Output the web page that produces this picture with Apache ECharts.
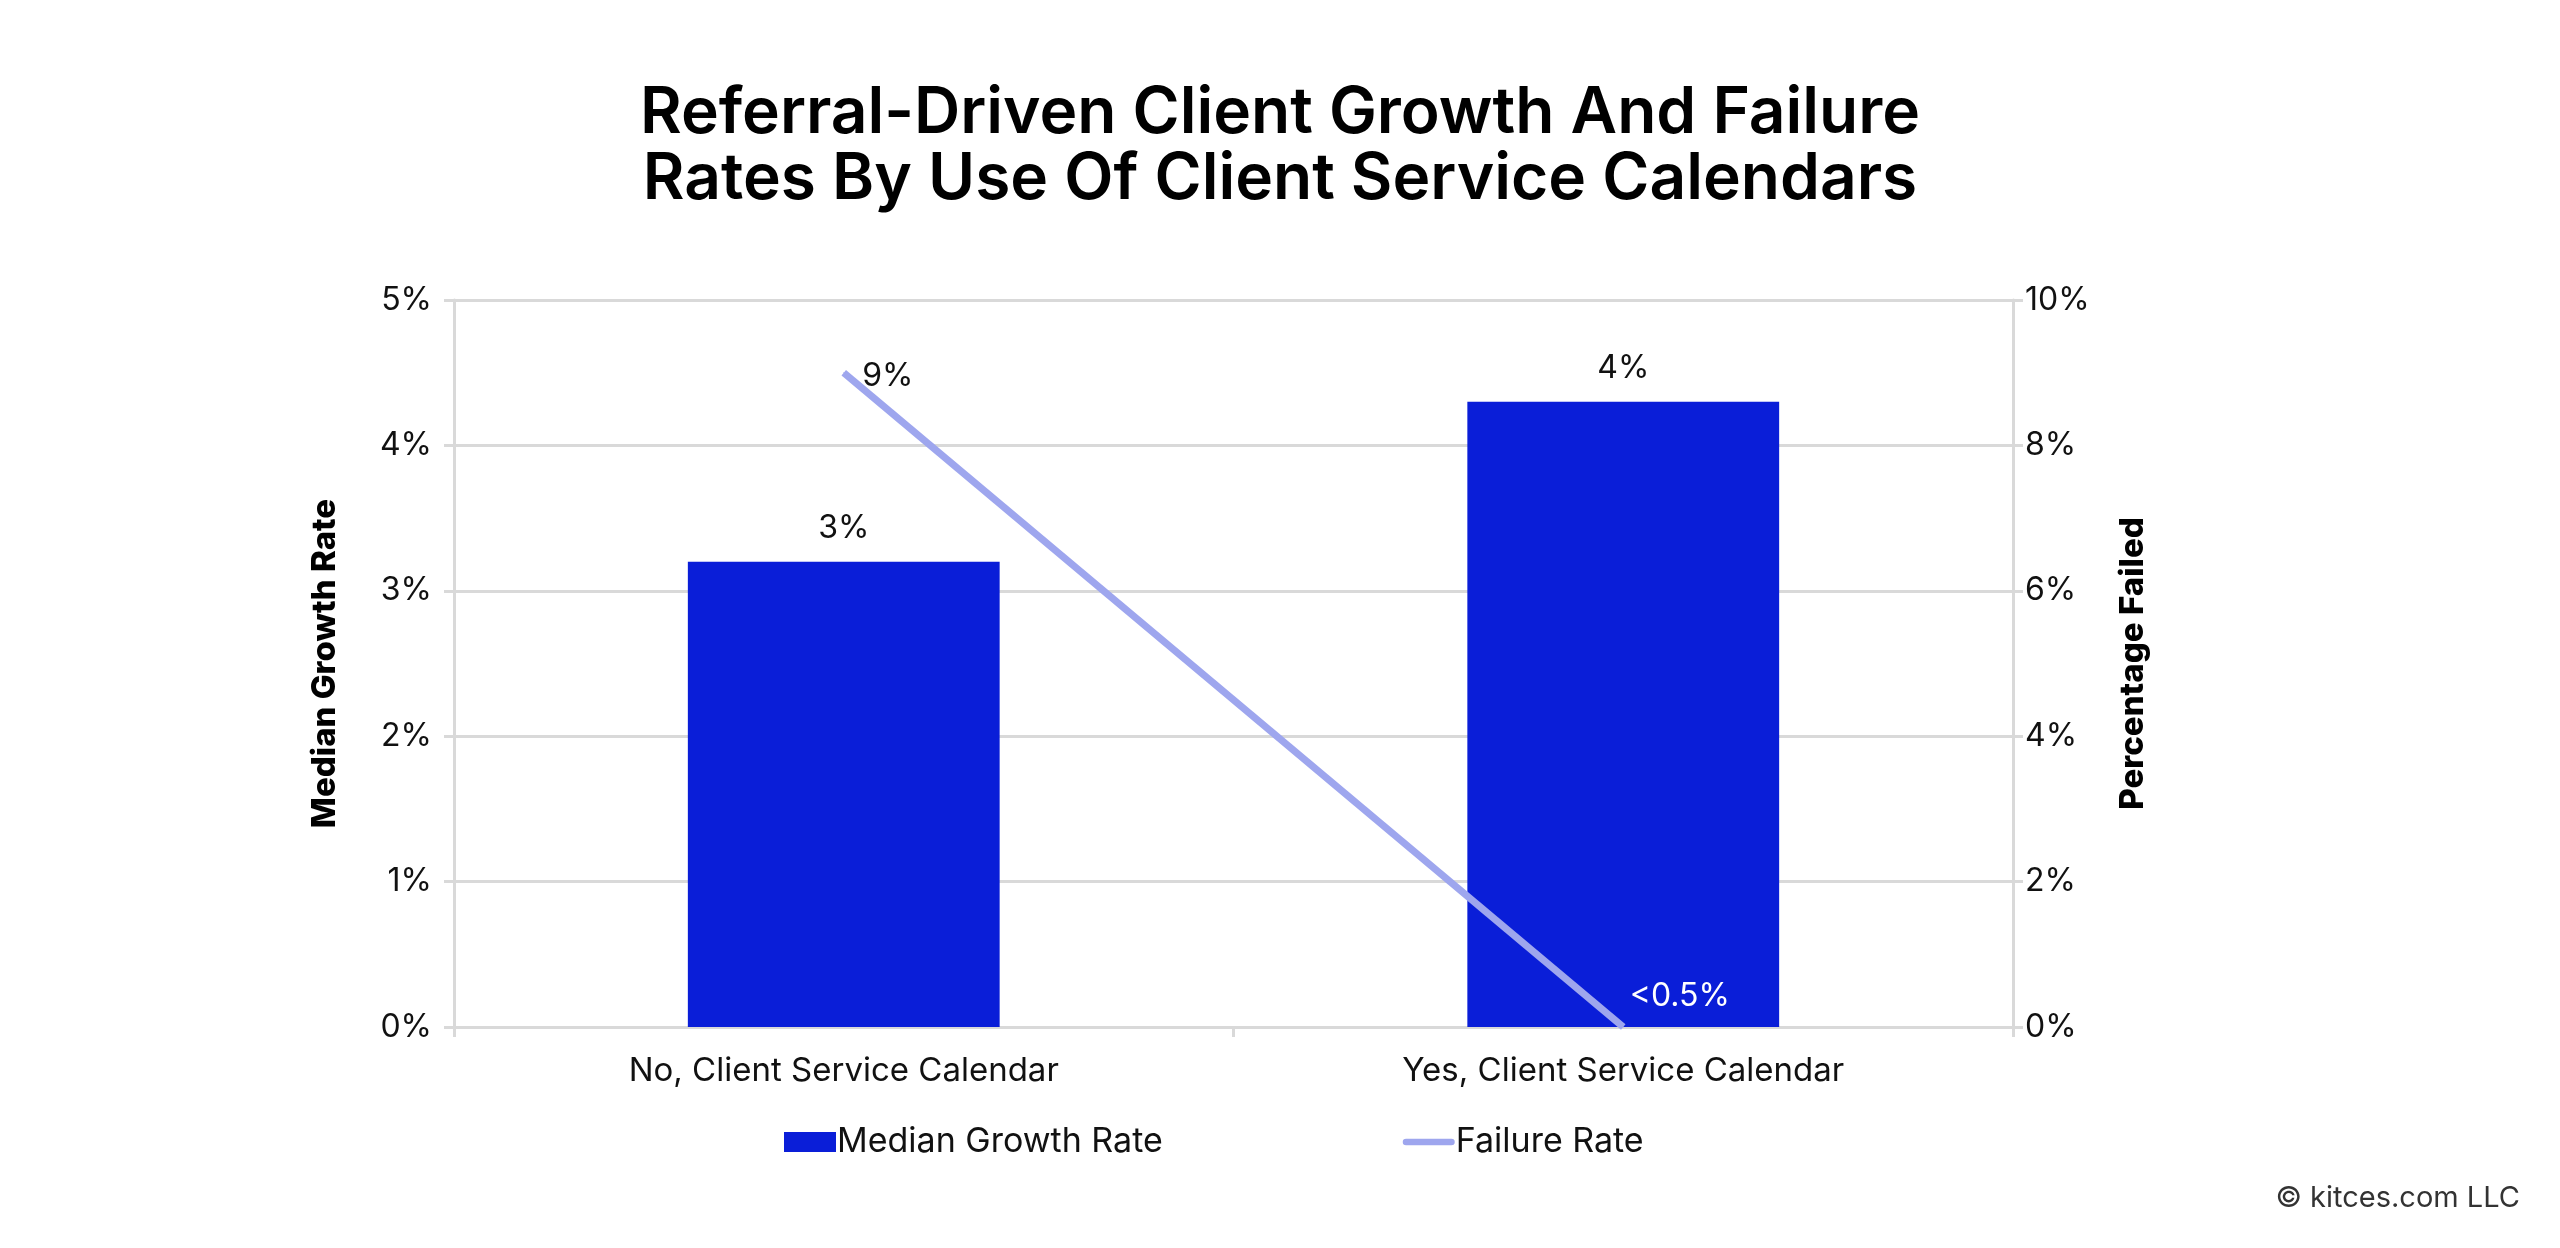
<!DOCTYPE html>
<html>
<head>
<meta charset="utf-8">
<script src="https://cdn.jsdelivr.net/npm/echarts@6/dist/echarts.min.js"></script>
<style>
  html, body { margin: 0; padding: 0; background: #fff; }
  #chart { width: 2560px; height: 1248px; }
</style>
</head>
<body>
<div id="chart"></div>
<script>
// data
const categories = ['No, Client Service Calendar', 'Yes, Client Service Calendar'];
const growthRate = [3.2, 4.3];          // left axis, %
const failureRate = [9, 0];             // right axis, %
const failureLabels = ['9%', '<0.5%'];
const leftTicks = {min: 0, max: 5, interval: 1};
const rightTicks = {min: 0, max: 10, interval: 2};

const FONT = 'Inter';
const BAR = '#0a1ed8';
const LINE = '#9ea6ee';
const GRID = '#d9d9d9';

const chart = echarts.init(document.getElementById('chart'));

chart.setOption({
  backgroundColor: '#fff',
  textStyle: {fontFamily: FONT, color: '#111'},
  title: {
    text: 'Referral-Driven Client Growth And Failure\nRates By Use Of Client Service Calendars',
    left: 'center',
    top: 76,
    textStyle: {fontFamily: FONT, fontSize: 64, fontWeight: 600, lineHeight: 66, color: '#000'}
  },
  graphic: [{
    type: 'text',
    right: 40,
    top: 1184,
    style: {text: '© kitces.com LLC', fontFamily: FONT, fontSize: 29, fill: '#333'}
  }],
  legend: {
    left: 779,
    top: 1120,
    itemWidth: 52,
    itemHeight: 20,
    itemGap: 240,
    textStyle: {fontFamily: FONT, fontSize: 34, color: '#111', padding: [0, 0, 0, -4]},
    data: [
      {name: 'Median Growth Rate', icon: 'rect'},
      {name: 'Failure Rate', icon: 'path://M3,0 L51,0 A3,3 0 0 1 51,7 L3,7 A3,3 0 0 1 3,0 Z'}
    ]
  },
  grid: {left: 454, right: 547, top: 300, bottom: 221},
  xAxis: {
    type: 'category',
    data: categories,
    axisLine: {lineStyle: {color: GRID, width: 3}},
    axisTick: {show: true, length: 10, lineStyle: {color: GRID, width: 3}},
    axisLabel: {fontFamily: FONT, fontSize: 33, color: '#111', margin: 28}
  },
  yAxis: [{
    type: 'value',
    min: leftTicks.min, max: leftTicks.max, interval: leftTicks.interval,
    name: 'Median Growth Rate',
    nameLocation: 'middle',
    nameGap: 112,
    nameTextStyle: {fontFamily: FONT, fontSize: 33, fontWeight: 800, color: '#000'},
    axisLine: {show: true, lineStyle: {color: GRID, width: 3}},
    axisTick: {show: true, length: 10, lineStyle: {color: GRID, width: 3}},
    axisLabel: {formatter: '{value}%', fontFamily: FONT, fontSize: 32, color: '#111', margin: 22},
    splitLine: {lineStyle: {color: GRID, width: 3}}
  }, {
    type: 'value',
    position: 'right',
    min: rightTicks.min, max: rightTicks.max, interval: rightTicks.interval,
    name: 'Percentage Failed',
    nameLocation: 'middle',
    nameGap: 104,
    nameTextStyle: {fontFamily: FONT, fontSize: 33, fontWeight: 800, color: '#000'},
    axisLine: {show: true, lineStyle: {color: GRID, width: 3}},
    axisTick: {show: true, length: 10, lineStyle: {color: GRID, width: 3}},
    axisLabel: {formatter: '{value}%', fontFamily: FONT, fontSize: 32, color: '#111', margin: 12},
    splitLine: {show: false}
  }],
  series: [{
    name: 'Median Growth Rate',
    type: 'bar',
    data: growthRate,
    barWidth: '40%',
    itemStyle: {color: BAR},
    label: {
      show: true,
      position: 'top',
      distance: 17,
      fontFamily: FONT, fontSize: 32, color: '#111',
      formatter: p => Math.round(p.value) + '%'
    }
  }, {
    name: 'Failure Rate',
    type: 'line',
    yAxisIndex: 1,
    data: failureRate.map((v, i) => ({
      value: v,
      label: i === 0
        ? {position: 'right', distance: 18, offset: [0, 4], color: '#111'}
        : {position: 'right', distance: 6, offset: [0, -31], color: '#fff'}
    })),
    symbol: 'circle',
    symbolSize: 1,
    showSymbol: true,
    lineStyle: {color: LINE, width: 7},
    itemStyle: {color: LINE},
    label: {
      show: true,
      fontFamily: FONT, fontSize: 32,
      formatter: p => failureLabels[p.dataIndex]
    },
    z: 5
  }]
});
</script>
</body>
</html>
